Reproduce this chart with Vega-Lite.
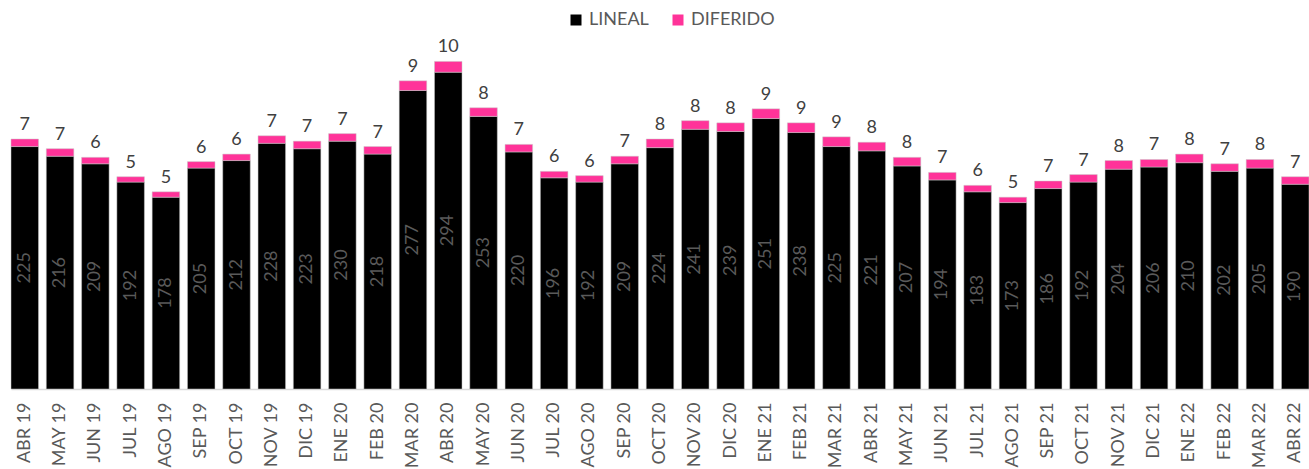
{
  "$schema": "https://vega.github.io/schema/vega-lite/v6.json",
  "width": 1298,
  "height": 389,
  "autosize": "none",
  "padding": {"left": 11, "top": 0, "right": 0, "bottom": 80},
  "config": {"view": {"stroke": null}, "font": "Lato"},
  "data": {"values": [
    {"mes":"ABR 19","serie":"LINEAL","orden":1,"valor":225},{"mes":"ABR 19","serie":"DIFERIDO","orden":2,"valor":7},
    {"mes":"MAY 19","serie":"LINEAL","orden":1,"valor":216},{"mes":"MAY 19","serie":"DIFERIDO","orden":2,"valor":7},
    {"mes":"JUN 19","serie":"LINEAL","orden":1,"valor":209},{"mes":"JUN 19","serie":"DIFERIDO","orden":2,"valor":6},
    {"mes":"JUL 19","serie":"LINEAL","orden":1,"valor":192},{"mes":"JUL 19","serie":"DIFERIDO","orden":2,"valor":5},
    {"mes":"AGO 19","serie":"LINEAL","orden":1,"valor":178},{"mes":"AGO 19","serie":"DIFERIDO","orden":2,"valor":5},
    {"mes":"SEP 19","serie":"LINEAL","orden":1,"valor":205},{"mes":"SEP 19","serie":"DIFERIDO","orden":2,"valor":6},
    {"mes":"OCT 19","serie":"LINEAL","orden":1,"valor":212},{"mes":"OCT 19","serie":"DIFERIDO","orden":2,"valor":6},
    {"mes":"NOV 19","serie":"LINEAL","orden":1,"valor":228},{"mes":"NOV 19","serie":"DIFERIDO","orden":2,"valor":7},
    {"mes":"DIC 19","serie":"LINEAL","orden":1,"valor":223},{"mes":"DIC 19","serie":"DIFERIDO","orden":2,"valor":7},
    {"mes":"ENE 20","serie":"LINEAL","orden":1,"valor":230},{"mes":"ENE 20","serie":"DIFERIDO","orden":2,"valor":7},
    {"mes":"FEB 20","serie":"LINEAL","orden":1,"valor":218},{"mes":"FEB 20","serie":"DIFERIDO","orden":2,"valor":7},
    {"mes":"MAR 20","serie":"LINEAL","orden":1,"valor":277},{"mes":"MAR 20","serie":"DIFERIDO","orden":2,"valor":9},
    {"mes":"ABR 20","serie":"LINEAL","orden":1,"valor":294},{"mes":"ABR 20","serie":"DIFERIDO","orden":2,"valor":10},
    {"mes":"MAY 20","serie":"LINEAL","orden":1,"valor":253},{"mes":"MAY 20","serie":"DIFERIDO","orden":2,"valor":8},
    {"mes":"JUN 20","serie":"LINEAL","orden":1,"valor":220},{"mes":"JUN 20","serie":"DIFERIDO","orden":2,"valor":7},
    {"mes":"JUL 20","serie":"LINEAL","orden":1,"valor":196},{"mes":"JUL 20","serie":"DIFERIDO","orden":2,"valor":6},
    {"mes":"AGO 20","serie":"LINEAL","orden":1,"valor":192},{"mes":"AGO 20","serie":"DIFERIDO","orden":2,"valor":6},
    {"mes":"SEP 20","serie":"LINEAL","orden":1,"valor":209},{"mes":"SEP 20","serie":"DIFERIDO","orden":2,"valor":7},
    {"mes":"OCT 20","serie":"LINEAL","orden":1,"valor":224},{"mes":"OCT 20","serie":"DIFERIDO","orden":2,"valor":8},
    {"mes":"NOV 20","serie":"LINEAL","orden":1,"valor":241},{"mes":"NOV 20","serie":"DIFERIDO","orden":2,"valor":8},
    {"mes":"DIC 20","serie":"LINEAL","orden":1,"valor":239},{"mes":"DIC 20","serie":"DIFERIDO","orden":2,"valor":8},
    {"mes":"ENE 21","serie":"LINEAL","orden":1,"valor":251},{"mes":"ENE 21","serie":"DIFERIDO","orden":2,"valor":9},
    {"mes":"FEB 21","serie":"LINEAL","orden":1,"valor":238},{"mes":"FEB 21","serie":"DIFERIDO","orden":2,"valor":9},
    {"mes":"MAR 21","serie":"LINEAL","orden":1,"valor":225},{"mes":"MAR 21","serie":"DIFERIDO","orden":2,"valor":9},
    {"mes":"ABR 21","serie":"LINEAL","orden":1,"valor":221},{"mes":"ABR 21","serie":"DIFERIDO","orden":2,"valor":8},
    {"mes":"MAY 21","serie":"LINEAL","orden":1,"valor":207},{"mes":"MAY 21","serie":"DIFERIDO","orden":2,"valor":8},
    {"mes":"JUN 21","serie":"LINEAL","orden":1,"valor":194},{"mes":"JUN 21","serie":"DIFERIDO","orden":2,"valor":7},
    {"mes":"JUL 21","serie":"LINEAL","orden":1,"valor":183},{"mes":"JUL 21","serie":"DIFERIDO","orden":2,"valor":6},
    {"mes":"AGO 21","serie":"LINEAL","orden":1,"valor":173},{"mes":"AGO 21","serie":"DIFERIDO","orden":2,"valor":5},
    {"mes":"SEP 21","serie":"LINEAL","orden":1,"valor":186},{"mes":"SEP 21","serie":"DIFERIDO","orden":2,"valor":7},
    {"mes":"OCT 21","serie":"LINEAL","orden":1,"valor":192},{"mes":"OCT 21","serie":"DIFERIDO","orden":2,"valor":7},
    {"mes":"NOV 21","serie":"LINEAL","orden":1,"valor":204},{"mes":"NOV 21","serie":"DIFERIDO","orden":2,"valor":8},
    {"mes":"DIC 21","serie":"LINEAL","orden":1,"valor":206},{"mes":"DIC 21","serie":"DIFERIDO","orden":2,"valor":7},
    {"mes":"ENE 22","serie":"LINEAL","orden":1,"valor":210},{"mes":"ENE 22","serie":"DIFERIDO","orden":2,"valor":8},
    {"mes":"FEB 22","serie":"LINEAL","orden":1,"valor":202},{"mes":"FEB 22","serie":"DIFERIDO","orden":2,"valor":7},
    {"mes":"MAR 22","serie":"LINEAL","orden":1,"valor":205},{"mes":"MAR 22","serie":"DIFERIDO","orden":2,"valor":8},
    {"mes":"ABR 22","serie":"LINEAL","orden":1,"valor":190},{"mes":"ABR 22","serie":"DIFERIDO","orden":2,"valor":7}
  ]},
  "transform": [
    {"stack": "valor", "groupby": ["mes"], "sort": [{"field": "orden", "order": "ascending"}], "as": ["v0", "v1"]}
  ],
  "encoding": {
    "x": {
      "field": "mes", "type": "nominal", "sort": null,
      "scale": {"paddingInner": 0.22, "paddingOuter": 0},
      "axis": {
        "title": null, "labelAngle": 270, "labelAlign": "right", "labelBaseline": "middle",
        "labelFontSize": 18, "labelColor": "#595959", "labelPadding": 13,
        "ticks": false, "domainColor": "#d9d9d9", "domainWidth": 1.5, "labelOverlap": false
      }
    }
  },
  "layer": [
    {
      "mark": {"type": "bar", "stroke": "#c8c8c8", "strokeWidth": 0.5},
      "encoding": {
        "y": {"field": "v1", "type": "quantitative", "scale": {"domain": [0, 361], "nice": false}, "axis": null},
        "y2": {"field": "v0"},
        "color": {
          "field": "serie", "type": "nominal",
          "scale": {"domain": ["LINEAL", "DIFERIDO"], "range": ["#000000", "#FF3399"]},
          "legend": {
            "title": null, "orient": "none", "direction": "horizontal", "legendX": 556, "legendY": 11,
            "symbolType": "square", "symbolSize": 121, "symbolStrokeWidth": 0,
            "labelFontSize": 18, "labelColor": "#595959", "labelOffset": 4, "columnPadding": 20
          }
        }
      }
    },
    {
      "transform": [{"filter": "datum.serie == 'DIFERIDO'"}],
      "mark": {"type": "text", "baseline": "bottom", "dy": -5, "fontSize": 18, "color": "#404040"},
      "encoding": {
        "y": {"field": "v1", "type": "quantitative", "scale": {"domain": [0, 361], "nice": false}, "axis": null},
        "text": {"field": "valor", "type": "quantitative"}
      }
    },
    {
      "transform": [{"filter": "datum.serie == 'LINEAL'"}],
      "mark": {"type": "text", "angle": 270, "align": "center", "baseline": "middle", "fontSize": 18, "color": "#5a5a5a"},
      "encoding": {
        "y": {"field": "valor", "type": "quantitative", "scale": {"domain": [0, 722], "nice": false}, "axis": null},
        "text": {"field": "valor", "type": "quantitative"}
      }
    }
  ],
  "resolve": {"scale": {"y": "independent"}}
}
